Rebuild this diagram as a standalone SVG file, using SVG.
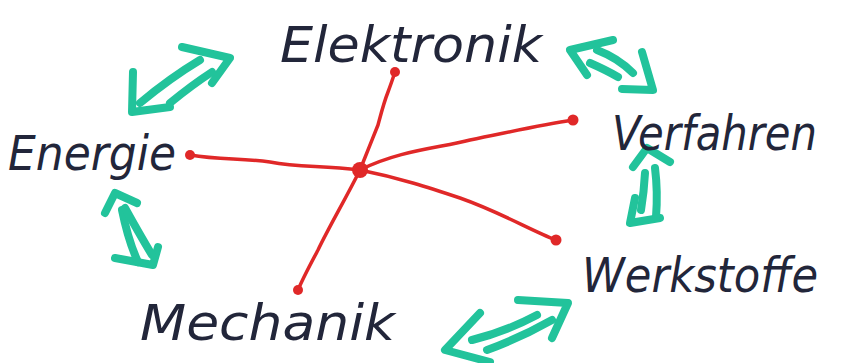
<svg xmlns="http://www.w3.org/2000/svg" width="848" height="363" viewBox="0 0 848 363">
<style>
.lbl{font-family:"DejaVu Sans","Liberation Sans",sans-serif;font-style:oblique;fill:#22263a;font-weight:normal}
.g{fill:none;stroke:#22c39b;stroke-width:8;stroke-linecap:round;stroke-linejoin:round}
.r{fill:none;stroke:#e02828;stroke-width:3.5;stroke-linecap:round;stroke-linejoin:round}
.dot{fill:#e02828}
</style>
<rect width="848" height="363" fill="#ffffff"/>
<g id="connectors">
<g id="links-red">
<path class="r" d="M360,170 C368,150 372,140 378,125 C382,110 384,102 388,92 C391,84 393,78 395,72"/>
<path class="r" d="M360,170 C320,165 300,168 270,162 C240,158 220,160 190,155"/>
<path class="r" d="M360,170 C400,150 440,148 470,140 C510,132 540,125 573,120"/>
<path class="r" d="M360,170 C400,178 430,188 460,198 C500,212 530,230 556,240"/>
<path class="r" d="M360,170 C345,200 330,225 318,250 C310,265 303,278 298,290"/>
<circle class="dot" cx="360" cy="170" r="8"/>
<circle class="dot" cx="395" cy="72" r="5"/>
<circle class="dot" cx="190" cy="155" r="5"/>
<circle class="dot" cx="573" cy="120" r="5.5"/>
<circle class="dot" cx="556" cy="240" r="5.5"/>
<circle class="dot" cx="298" cy="290" r="5"/>
</g>
<g id="arrow-energie-elektronik">
<path class="g" d="M133,72 L132,112 L170,107"/>
<path class="g" d="M182,47 L230,58 L212,83"/>
<path class="g" d="M140,103 Q170,78 200,60"/>
<path class="g" d="M170,103 Q192,85 212,72"/>
</g>
<g id="arrow-elektronik-verfahren">
<path class="g" d="M613,40 L570,50 L587,75"/>
<path class="g" d="M642,52 L653,90 L622,89"/>
<path class="g" d="M597,50 Q618,58 633,73"/>
<path class="g" d="M590,63 Q606,70 618,77"/>
</g>
<g id="arrow-verfahren-werkstoffe">
<path class="g" d="M633,167 L647,148 L670,162"/>
<path class="g" d="M635,198 L630,223 L660,218"/>
<path class="g" d="M655,168 Q658,192 656,217"/>
<path class="g" d="M645,173 Q644,192 641,210"/>
</g>
<g id="arrow-energie-mechanik">
<path class="g" d="M105,213 L115,193 L137,203"/>
<path class="g" d="M158,247 L153,265 L115,258"/>
<path class="g" d="M122,210 Q128,240 138,262"/>
<path class="g" d="M125,208 Q140,235 152,255"/>
</g>
<g id="arrow-mechanik-werkstoffe">
<path class="g" d="M480,313 L445,350 L490,362"/>
<path class="g" d="M518,300 L568,303 L552,338"/>
<path class="g" d="M472,340 Q505,332 537,315"/>
<path class="g" d="M487,350 Q520,338 552,320"/>
</g>
</g>
<g id="node-elektronik"><text class="lbl" x="280" y="62" font-size="50" textLength="262" lengthAdjust="spacingAndGlyphs">Elektronik</text></g>
<g id="node-verfahren"><text class="lbl" x="612" y="150" font-size="48" textLength="205" lengthAdjust="spacingAndGlyphs">Verfahren</text></g>
<g id="node-energie"><text class="lbl" x="8" y="170" font-size="48" textLength="168" lengthAdjust="spacingAndGlyphs">Energie</text></g>
<g id="node-werkstoffe"><text class="lbl" x="582" y="292" font-size="48" textLength="236" lengthAdjust="spacingAndGlyphs">Werkstoffe</text></g>
<g id="node-mechanik"><text class="lbl" x="140" y="340" font-size="50" textLength="255" lengthAdjust="spacingAndGlyphs">Mechanik</text></g>
</svg>
